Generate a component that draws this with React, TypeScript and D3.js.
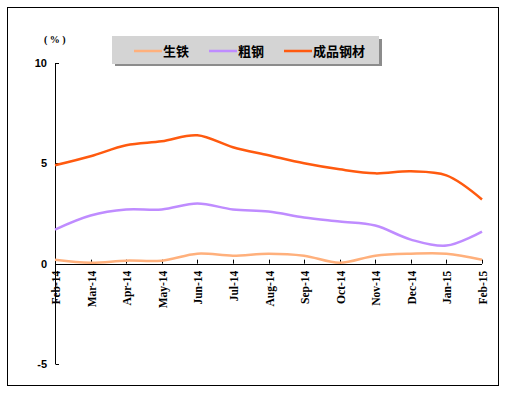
import React, { useEffect, useRef } from "react";
import * as d3 from "d3";

const months = ["Feb-14", "Mar-14", "Apr-14", "May-14", "Jun-14", "Jul-14", "Aug-14", "Sep-14", "Oct-14", "Nov-14", "Dec-14", "Jan-15", "Feb-15"];
const pigIron = [0.2, 0.05, 0.15, 0.15, 0.5, 0.4, 0.5, 0.4, 0.05, 0.4, 0.5, 0.5, 0.2];
const crudeSteel = [1.7, 2.4, 2.7, 2.7, 3.0, 2.7, 2.6, 2.3, 2.1, 1.9, 1.2, 0.9, 1.6];
const finishedSteel = [4.9, 5.35, 5.9, 6.1, 6.4, 5.8, 5.4, 5.0, 4.7, 4.5, 4.6, 4.4, 3.2];
const yTicks = [10, 5, 0, -5];

const seriesNames = ["生铁", "粗钢", "成品钢材"];
const seriesColors = ["#FFB07C", "#BF8CFF", "#FF5A0F"];

export default function App() {
  const ref = useRef<SVGSVGElement>(null);

  useEffect(() => {
    const svg = d3.select(ref.current);
    svg.selectAll("*").remove();

    // outer frame
    svg.append("rect")
      .attr("x", 7.5).attr("y", 7.5)
      .attr("width", 491).attr("height", 378)
      .attr("fill", "white").attr("stroke", "black").attr("stroke-width", 1);

    const x = d3.scalePoint().domain(months).range([55, 482]);
    const y = d3.scaleLinear().domain([-5, 10]).range([364, 63]);

    const g = svg.append("g");

    // y axis
    g.append("line")
      .attr("x1", 55.5).attr("x2", 55.5)
      .attr("y1", y(10)).attr("y2", y(-5))
      .attr("stroke", "black");
    yTicks.forEach(t => {
      g.append("line")
        .attr("x1", 55.5).attr("x2", 59)
        .attr("y1", Math.round(y(t)) + 0.5).attr("y2", Math.round(y(t)) + 0.5)
        .attr("stroke", "black");
      g.append("text")
        .attr("x", 47).attr("y", y(t) + 4)
        .attr("text-anchor", "end")
        .attr("font-family", "Arial, 'Liberation Sans', sans-serif")
        .attr("font-weight", "bold")
        .attr("font-size", 11)
        .text(t);
    });

    g.append("text")
      .attr("x", 44).attr("y", 43)
      .attr("font-family", "'Liberation Serif', serif")
      .attr("font-weight", "bold")
      .attr("font-size", 10)
      .text("( % )");

    // x axis
    g.append("line")
      .attr("x1", 55).attr("x2", 482)
      .attr("y1", Math.round(y(0)) + 0.5).attr("y2", Math.round(y(0)) + 0.5)
      .attr("stroke", "black");
    months.forEach(m => {
      const px = Math.round(x(m)!) + 0.5;
      g.append("line")
        .attr("x1", px).attr("x2", px)
        .attr("y1", y(0) - 4).attr("y2", y(0))
        .attr("stroke", "black");
      g.append("text")
        .attr("transform", `translate(${px + 4},${y(0) + 7}) rotate(-90)`)
        .attr("text-anchor", "end")
        .attr("font-family", "'Liberation Serif', serif")
        .attr("font-weight", "bold")
        .attr("font-size", 11.5)
        .text(m);
    });

    // lines
    const line = d3.line<number>()
      .x((d, i) => x(months[i])!)
      .y(d => y(d))
      .curve(d3.curveCatmullRom.alpha(0.5));

    [pigIron, crudeSteel, finishedSteel].forEach((s, i) => {
      g.append("path")
        .datum(s)
        .attr("d", line)
        .attr("fill", "none")
        .attr("stroke", seriesColors[i])
        .attr("stroke-width", 2.5);
    });

    // legend
    const lg = svg.append("g");
    lg.append("rect")
      .attr("x", 115).attr("y", 39)
      .attr("width", 267).attr("height", 27)
      .attr("fill", "#8c8c8c");
    lg.append("rect")
      .attr("x", 112).attr("y", 36)
      .attr("width", 267).attr("height", 28)
      .attr("fill", "#d4d4d4");
    const lx = [134, 209, 284];
    seriesNames.forEach((n, i) => {
      lg.append("line")
        .attr("x1", lx[i]).attr("x2", lx[i] + 28)
        .attr("y1", 51).attr("y2", 51)
        .attr("stroke", seriesColors[i])
        .attr("stroke-width", 2.5);
      lg.append("text")
        .attr("x", lx[i] + 29).attr("y", 56)
        .attr("font-family", "'Noto Sans CJK SC', sans-serif")
        .attr("font-weight", "bold")
        .attr("font-size", 13)
        .text(n);
    });
  }, []);

  return (
    <svg ref={ref} width={506} height={395}
      style={{ position: "absolute", left: 0, top: 0 }} />
  );
}
